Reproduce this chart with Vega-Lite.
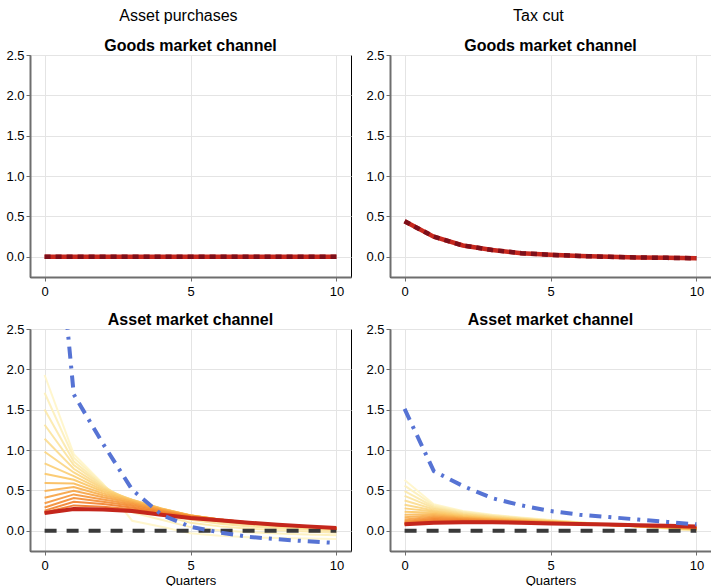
{
"$schema":"https://vega.github.io/schema/vega-lite/v6.json",
"padding":{"left":5,"top":7,"right":0,"bottom":0},
"config":{
"font":"Liberation Sans",
"view":{"stroke":"#000","strokeWidth":1},
"axis":{"grid":true,"gridColor":"#e4e4e4","gridWidth":1,"domainColor":"#6e6e6e","domainWidth":2,"tickColor":"#6e6e6e","tickSize":4,"tickWidth":1,"labelFontSize":13,"labelColor":"#000","labelPadding":2,"labelFlush":false,"titleFontSize":13,"titleFontWeight":"normal","titleColor":"#000","titlePadding":2},
"axisX":{"labelPadding":4},
"title":{"fontSize":16,"fontWeight":"bold","color":"#000","offset":-5}
},
"datasets":{
"zero":[{"x":0,"v":0},{"x":10,"v":0}],
"goodsAP":[{"x":0,"v":0},{"x":1,"v":0},{"x":2,"v":0},{"x":3,"v":0},{"x":4,"v":0},{"x":5,"v":0},{"x":6,"v":0},{"x":7,"v":0},{"x":8,"v":0},{"x":9,"v":0},{"x":10,"v":0}],
"goodsTC":[{"x":0,"v":0.44},{"x":1,"v":0.25},{"x":2,"v":0.14},{"x":3,"v":0.085},{"x":4,"v":0.045},{"x":5,"v":0.025},{"x":6,"v":0.01},{"x":7,"v":0.0},{"x":8,"v":-0.008},{"x":9,"v":-0.013},{"x":10,"v":-0.018}],
"redAP":[{"x":0,"v":0.22},{"x":1,"v":0.27},{"x":2,"v":0.265},{"x":3,"v":0.245},{"x":4,"v":0.2},{"x":5,"v":0.16},{"x":6,"v":0.13},{"x":7,"v":0.1},{"x":8,"v":0.075},{"x":9,"v":0.055},{"x":10,"v":0.035}],
"redTC":[{"x":0,"v":0.08},{"x":1,"v":0.1},{"x":2,"v":0.105},{"x":3,"v":0.105},{"x":4,"v":0.1},{"x":5,"v":0.092},{"x":6,"v":0.085},{"x":7,"v":0.077},{"x":8,"v":0.07},{"x":9,"v":0.062},{"x":10,"v":0.055}],
"blueAP":[{"x":0,"v":5.5},{"x":1,"v":1.69},{"x":2,"v":1.08},{"x":3,"v":0.51},{"x":4,"v":0.2},{"x":5,"v":0.05},{"x":6,"v":-0.02},{"x":7,"v":-0.075},{"x":8,"v":-0.105},{"x":9,"v":-0.13},{"x":10,"v":-0.15}],
"blueTC":[{"x":0,"v":1.51},{"x":1,"v":0.74},{"x":2,"v":0.555},{"x":3,"v":0.405},{"x":4,"v":0.315},{"x":5,"v":0.245},{"x":6,"v":0.2},{"x":7,"v":0.17},{"x":8,"v":0.14},{"x":9,"v":0.11},{"x":10,"v":0.08}],
"fanAP":[
{"k":15,"x":0,"v":1.93},{"k":15,"x":1,"v":0.95},{"k":15,"x":2,"v":0.585},{"k":15,"x":3,"v":0.125},{"k":15,"x":4,"v":0.05},{"k":15,"x":5,"v":-0.03},{"k":15,"x":6,"v":-0.06},{"k":15,"x":7,"v":-0.08},{"k":15,"x":8,"v":-0.09},{"k":15,"x":9,"v":-0.095},{"k":15,"x":10,"v":-0.1},
{"k":14,"x":0,"v":1.71},{"k":14,"x":1,"v":0.905},{"k":14,"x":2,"v":0.576},{"k":14,"x":3,"v":0.228},{"k":14,"x":4,"v":0.136},{"k":14,"x":5,"v":0.046},{"k":14,"x":6,"v":0.007},{"k":14,"x":7,"v":-0.018},{"k":14,"x":8,"v":-0.034},{"k":14,"x":9,"v":-0.045},{"k":14,"x":10,"v":-0.055},
{"k":13,"x":0,"v":1.504},{"k":13,"x":1,"v":0.859},{"k":13,"x":2,"v":0.565},{"k":13,"x":3,"v":0.298},{"k":13,"x":4,"v":0.195},{"k":13,"x":5,"v":0.1},{"k":13,"x":6,"v":0.055},{"k":13,"x":7,"v":0.026},{"k":13,"x":8,"v":0.006},{"k":13,"x":9,"v":-0.009},{"k":13,"x":10,"v":-0.024},
{"k":12,"x":0,"v":1.314},{"k":12,"x":1,"v":0.814},{"k":12,"x":2,"v":0.553},{"k":12,"x":3,"v":0.343},{"k":12,"x":4,"v":0.234},{"k":12,"x":5,"v":0.137},{"k":12,"x":6,"v":0.088},{"k":12,"x":7,"v":0.055},{"k":12,"x":8,"v":0.033},{"k":12,"x":9,"v":0.015},{"k":12,"x":10,"v":-0.003},
{"k":11,"x":0,"v":1.14},{"k":11,"x":1,"v":0.769},{"k":11,"x":2,"v":0.539},{"k":11,"x":3,"v":0.369},{"k":11,"x":4,"v":0.258},{"k":11,"x":5,"v":0.162},{"k":11,"x":6,"v":0.11},{"k":11,"x":7,"v":0.076},{"k":11,"x":8,"v":0.051},{"k":11,"x":9,"v":0.031},{"k":11,"x":10,"v":0.012},
{"k":10,"x":0,"v":0.98},{"k":10,"x":1,"v":0.723},{"k":10,"x":2,"v":0.523},{"k":10,"x":3,"v":0.382},{"k":10,"x":4,"v":0.271},{"k":10,"x":5,"v":0.177},{"k":10,"x":6,"v":0.124},{"k":10,"x":7,"v":0.089},{"k":10,"x":8,"v":0.063},{"k":10,"x":9,"v":0.042},{"k":10,"x":10,"v":0.021},
{"k":9,"x":0,"v":0.836},{"k":9,"x":1,"v":0.678},{"k":9,"x":2,"v":0.505},{"k":9,"x":3,"v":0.385},{"k":9,"x":4,"v":0.277},{"k":9,"x":5,"v":0.186},{"k":9,"x":6,"v":0.133},{"k":9,"x":7,"v":0.096},{"k":9,"x":8,"v":0.07},{"k":9,"x":9,"v":0.048},{"k":9,"x":10,"v":0.026},
{"k":8,"x":0,"v":0.706},{"k":8,"x":1,"v":0.633},{"k":8,"x":2,"v":0.485},{"k":8,"x":3,"v":0.381},{"k":8,"x":4,"v":0.277},{"k":8,"x":5,"v":0.191},{"k":8,"x":6,"v":0.138},{"k":8,"x":7,"v":0.101},{"k":8,"x":8,"v":0.074},{"k":8,"x":9,"v":0.052},{"k":8,"x":10,"v":0.03},
{"k":7,"x":0,"v":0.592},{"k":7,"x":1,"v":0.587},{"k":7,"x":2,"v":0.464},{"k":7,"x":3,"v":0.373},{"k":7,"x":4,"v":0.274},{"k":7,"x":5,"v":0.192},{"k":7,"x":6,"v":0.141},{"k":7,"x":7,"v":0.103},{"k":7,"x":8,"v":0.076},{"k":7,"x":9,"v":0.053},{"k":7,"x":10,"v":0.031},
{"k":6,"x":0,"v":0.494},{"k":6,"x":1,"v":0.542},{"k":6,"x":2,"v":0.441},{"k":6,"x":3,"v":0.36},{"k":6,"x":4,"v":0.268},{"k":6,"x":5,"v":0.191},{"k":6,"x":6,"v":0.141},{"k":6,"x":7,"v":0.104},{"k":6,"x":8,"v":0.077},{"k":6,"x":9,"v":0.054},{"k":6,"x":10,"v":0.032},
{"k":5,"x":0,"v":0.41},{"k":5,"x":1,"v":0.497},{"k":5,"x":2,"v":0.416},{"k":5,"x":3,"v":0.346},{"k":5,"x":4,"v":0.26},{"k":5,"x":5,"v":0.189},{"k":5,"x":6,"v":0.14},{"k":5,"x":7,"v":0.104},{"k":5,"x":8,"v":0.076},{"k":5,"x":9,"v":0.054},{"k":5,"x":10,"v":0.033},
{"k":4,"x":0,"v":0.342},{"k":4,"x":1,"v":0.451},{"k":4,"x":2,"v":0.389},{"k":4,"x":3,"v":0.329},{"k":4,"x":4,"v":0.25},{"k":4,"x":5,"v":0.185},{"k":4,"x":6,"v":0.139},{"k":4,"x":7,"v":0.103},{"k":4,"x":8,"v":0.076},{"k":4,"x":9,"v":0.054},{"k":4,"x":10,"v":0.032},
{"k":3,"x":0,"v":0.288},{"k":3,"x":1,"v":0.406},{"k":3,"x":2,"v":0.361},{"k":3,"x":3,"v":0.31},{"k":3,"x":4,"v":0.239},{"k":3,"x":5,"v":0.18},{"k":3,"x":6,"v":0.136},{"k":3,"x":7,"v":0.101},{"k":3,"x":8,"v":0.075},{"k":3,"x":9,"v":0.053},{"k":3,"x":10,"v":0.032},
{"k":2,"x":0,"v":0.25},{"k":2,"x":1,"v":0.361},{"k":2,"x":2,"v":0.331},{"k":2,"x":3,"v":0.29},{"k":2,"x":4,"v":0.227},{"k":2,"x":5,"v":0.174},{"k":2,"x":6,"v":0.133},{"k":2,"x":7,"v":0.1},{"k":2,"x":8,"v":0.074},{"k":2,"x":9,"v":0.052},{"k":2,"x":10,"v":0.031},
{"k":1,"x":0,"v":0.228},{"k":1,"x":1,"v":0.315},{"k":1,"x":2,"v":0.299},{"k":1,"x":3,"v":0.268},{"k":1,"x":4,"v":0.214},{"k":1,"x":5,"v":0.168},{"k":1,"x":6,"v":0.129},{"k":1,"x":7,"v":0.098},{"k":1,"x":8,"v":0.072},{"k":1,"x":9,"v":0.051},{"k":1,"x":10,"v":0.031},
{"k":0,"x":0,"v":0.22},{"k":0,"x":1,"v":0.27},{"k":0,"x":2,"v":0.265},{"k":0,"x":3,"v":0.245},{"k":0,"x":4,"v":0.2},{"k":0,"x":5,"v":0.16},{"k":0,"x":6,"v":0.125},{"k":0,"x":7,"v":0.095},{"k":0,"x":8,"v":0.07},{"k":0,"x":9,"v":0.05},{"k":0,"x":10,"v":0.03}
],
"fanTC":[
{"k":15,"x":0,"v":0.63},{"k":15,"x":1,"v":0.33},{"k":15,"x":2,"v":0.245},{"k":15,"x":3,"v":0.2},{"k":15,"x":4,"v":0.165},{"k":15,"x":5,"v":0.135},{"k":15,"x":6,"v":0.105},{"k":15,"x":7,"v":0.08},{"k":15,"x":8,"v":0.052},{"k":15,"x":9,"v":0.03},{"k":15,"x":10,"v":0.0},
{"k":14,"x":0,"v":0.559},{"k":14,"x":1,"v":0.315},{"k":14,"x":2,"v":0.236},{"k":14,"x":3,"v":0.193},{"k":14,"x":4,"v":0.16},{"k":14,"x":5,"v":0.132},{"k":14,"x":6,"v":0.103},{"k":14,"x":7,"v":0.079},{"k":14,"x":8,"v":0.053},{"k":14,"x":9,"v":0.032},{"k":14,"x":10,"v":0.003},
{"k":13,"x":0,"v":0.493},{"k":13,"x":1,"v":0.299},{"k":13,"x":2,"v":0.226},{"k":13,"x":3,"v":0.187},{"k":13,"x":4,"v":0.156},{"k":13,"x":5,"v":0.129},{"k":13,"x":6,"v":0.102},{"k":13,"x":7,"v":0.079},{"k":13,"x":8,"v":0.053},{"k":13,"x":9,"v":0.033},{"k":13,"x":10,"v":0.006},
{"k":12,"x":0,"v":0.432},{"k":12,"x":1,"v":0.284},{"k":12,"x":2,"v":0.217},{"k":12,"x":3,"v":0.18},{"k":12,"x":4,"v":0.151},{"k":12,"x":5,"v":0.126},{"k":12,"x":6,"v":0.1},{"k":12,"x":7,"v":0.078},{"k":12,"x":8,"v":0.054},{"k":12,"x":9,"v":0.035},{"k":12,"x":10,"v":0.009},
{"k":11,"x":0,"v":0.376},{"k":11,"x":1,"v":0.269},{"k":11,"x":2,"v":0.208},{"k":11,"x":3,"v":0.173},{"k":11,"x":4,"v":0.146},{"k":11,"x":5,"v":0.123},{"k":11,"x":6,"v":0.098},{"k":11,"x":7,"v":0.077},{"k":11,"x":8,"v":0.055},{"k":11,"x":9,"v":0.037},{"k":11,"x":10,"v":0.012},
{"k":10,"x":0,"v":0.324},{"k":10,"x":1,"v":0.253},{"k":10,"x":2,"v":0.198},{"k":10,"x":3,"v":0.167},{"k":10,"x":4,"v":0.142},{"k":10,"x":5,"v":0.12},{"k":10,"x":6,"v":0.097},{"k":10,"x":7,"v":0.077},{"k":10,"x":8,"v":0.055},{"k":10,"x":9,"v":0.038},{"k":10,"x":10,"v":0.015},
{"k":9,"x":0,"v":0.278},{"k":9,"x":1,"v":0.238},{"k":9,"x":2,"v":0.189},{"k":9,"x":3,"v":0.16},{"k":9,"x":4,"v":0.137},{"k":9,"x":5,"v":0.117},{"k":9,"x":6,"v":0.095},{"k":9,"x":7,"v":0.076},{"k":9,"x":8,"v":0.056},{"k":9,"x":9,"v":0.04},{"k":9,"x":10,"v":0.018},
{"k":8,"x":0,"v":0.236},{"k":8,"x":1,"v":0.223},{"k":8,"x":2,"v":0.18},{"k":8,"x":3,"v":0.153},{"k":8,"x":4,"v":0.132},{"k":8,"x":5,"v":0.114},{"k":8,"x":6,"v":0.093},{"k":8,"x":7,"v":0.075},{"k":8,"x":8,"v":0.057},{"k":8,"x":9,"v":0.042},{"k":8,"x":10,"v":0.021},
{"k":7,"x":0,"v":0.2},{"k":7,"x":1,"v":0.207},{"k":7,"x":2,"v":0.17},{"k":7,"x":3,"v":0.147},{"k":7,"x":4,"v":0.128},{"k":7,"x":5,"v":0.111},{"k":7,"x":6,"v":0.092},{"k":7,"x":7,"v":0.075},{"k":7,"x":8,"v":0.057},{"k":7,"x":9,"v":0.043},{"k":7,"x":10,"v":0.024},
{"k":6,"x":0,"v":0.168},{"k":6,"x":1,"v":0.192},{"k":6,"x":2,"v":0.161},{"k":6,"x":3,"v":0.14},{"k":6,"x":4,"v":0.123},{"k":6,"x":5,"v":0.108},{"k":6,"x":6,"v":0.09},{"k":6,"x":7,"v":0.074},{"k":6,"x":8,"v":0.058},{"k":6,"x":9,"v":0.045},{"k":6,"x":10,"v":0.027},
{"k":5,"x":0,"v":0.141},{"k":5,"x":1,"v":0.177},{"k":5,"x":2,"v":0.152},{"k":5,"x":3,"v":0.133},{"k":5,"x":4,"v":0.118},{"k":5,"x":5,"v":0.105},{"k":5,"x":6,"v":0.088},{"k":5,"x":7,"v":0.073},{"k":5,"x":8,"v":0.059},{"k":5,"x":9,"v":0.047},{"k":5,"x":10,"v":0.03},
{"k":4,"x":0,"v":0.119},{"k":4,"x":1,"v":0.161},{"k":4,"x":2,"v":0.142},{"k":4,"x":3,"v":0.127},{"k":4,"x":4,"v":0.114},{"k":4,"x":5,"v":0.102},{"k":4,"x":6,"v":0.087},{"k":4,"x":7,"v":0.073},{"k":4,"x":8,"v":0.059},{"k":4,"x":9,"v":0.048},{"k":4,"x":10,"v":0.033},
{"k":3,"x":0,"v":0.102},{"k":3,"x":1,"v":0.146},{"k":3,"x":2,"v":0.133},{"k":3,"x":3,"v":0.12},{"k":3,"x":4,"v":0.109},{"k":3,"x":5,"v":0.099},{"k":3,"x":6,"v":0.085},{"k":3,"x":7,"v":0.072},{"k":3,"x":8,"v":0.06},{"k":3,"x":9,"v":0.05},{"k":3,"x":10,"v":0.036},
{"k":2,"x":0,"v":0.09},{"k":2,"x":1,"v":0.131},{"k":2,"x":2,"v":0.124},{"k":2,"x":3,"v":0.113},{"k":2,"x":4,"v":0.104},{"k":2,"x":5,"v":0.096},{"k":2,"x":6,"v":0.083},{"k":2,"x":7,"v":0.071},{"k":2,"x":8,"v":0.061},{"k":2,"x":9,"v":0.052},{"k":2,"x":10,"v":0.039},
{"k":1,"x":0,"v":0.082},{"k":1,"x":1,"v":0.115},{"k":1,"x":2,"v":0.114},{"k":1,"x":3,"v":0.107},{"k":1,"x":4,"v":0.1},{"k":1,"x":5,"v":0.093},{"k":1,"x":6,"v":0.082},{"k":1,"x":7,"v":0.071},{"k":1,"x":8,"v":0.061},{"k":1,"x":9,"v":0.053},{"k":1,"x":10,"v":0.042},
{"k":0,"x":0,"v":0.08},{"k":0,"x":1,"v":0.1},{"k":0,"x":2,"v":0.105},{"k":0,"x":3,"v":0.1},{"k":0,"x":4,"v":0.095},{"k":0,"x":5,"v":0.09},{"k":0,"x":6,"v":0.08},{"k":0,"x":7,"v":0.07},{"k":0,"x":8,"v":0.062},{"k":0,"x":9,"v":0.055},{"k":0,"x":10,"v":0.045}
]
},
"spacing":13,
"hconcat":[
{"title":{"text":"Asset purchases","fontWeight":"normal","anchor":"middle","offset":14},
 "spacing":12,
 "vconcat":[
  {"width":321,"height":222,"title":"Goods market channel",
   "encoding":{"x":{"field":"x","type":"quantitative","scale":{"domain":[-0.5,10.5],"nice":false,"zero":false},"axis":{"values":[0,5,10],"title":null}},
               "y":{"field":"v","type":"quantitative","scale":{"domain":[-0.25,2.5],"nice":false,"zero":false},"axis":{"values":[0,0.5,1,1.5,2,2.5],"format":".1f","title":null}}},
   "layer":[
    {"data":{"name":"goodsAP"},"mark":{"type":"line","color":"#c8281e","strokeWidth":4.5,"clip":true}},
    {"data":{"name":"goodsAP"},"mark":{"type":"line","color":"#7d0f1a","strokeWidth":4.5,"strokeDash":[6,5],"clip":true}}
   ]},
  {"width":321,"height":222,"title":"Asset market channel",
   "encoding":{"x":{"field":"x","type":"quantitative","scale":{"domain":[-0.5,10.5],"nice":false,"zero":false},"axis":{"values":[0,5,10],"title":"Quarters"}},
               "y":{"field":"v","type":"quantitative","scale":{"domain":[-0.25,2.5],"nice":false,"zero":false},"axis":{"values":[0,0.5,1,1.5,2,2.5],"format":".1f","title":null}}},
   "layer":[
    {"data":{"name":"fanAP"},"mark":{"type":"line","strokeWidth":2,"opacity":0.9,"clip":true},
     "encoding":{"detail":{"field":"k","type":"nominal"},"color":{"field":"k","type":"quantitative","scale":{"domain":[0,4,8,15],"range":["#ee6a1f","#f5953a","#fbc766","#fff5c8"]},"legend":null}}},
    {"data":{"name":"zero"},"mark":{"type":"line","color":"#3a3a3a","strokeWidth":4,"strokeDash":[12,10],"clip":true}},
    {"data":{"name":"redAP"},"mark":{"type":"line","color":"#c4261c","strokeWidth":4,"clip":true}},
    {"data":{"name":"blueAP"},"mark":{"type":"line","color":"#5673d4","strokeWidth":4,"strokeDash":[12,7,3,7],"clip":true}}
   ]}
 ]},
{"title":{"text":"Tax cut","fontWeight":"normal","anchor":"middle","offset":14},
 "spacing":12,
 "vconcat":[
  {"width":321,"height":222,"title":"Goods market channel",
   "encoding":{"x":{"field":"x","type":"quantitative","scale":{"domain":[-0.5,10.5],"nice":false,"zero":false},"axis":{"values":[0,5,10],"title":null}},
               "y":{"field":"v","type":"quantitative","scale":{"domain":[-0.25,2.5],"nice":false,"zero":false},"axis":{"values":[0,0.5,1,1.5,2,2.5],"format":".1f","title":null}}},
   "layer":[
    {"data":{"name":"goodsTC"},"mark":{"type":"line","color":"#c8281e","strokeWidth":4.5,"clip":true}},
    {"data":{"name":"goodsTC"},"mark":{"type":"line","color":"#7d0f1a","strokeWidth":4.5,"strokeDash":[6,5],"clip":true}}
   ]},
  {"width":321,"height":222,"title":"Asset market channel",
   "encoding":{"x":{"field":"x","type":"quantitative","scale":{"domain":[-0.5,10.5],"nice":false,"zero":false},"axis":{"values":[0,5,10],"title":"Quarters"}},
               "y":{"field":"v","type":"quantitative","scale":{"domain":[-0.25,2.5],"nice":false,"zero":false},"axis":{"values":[0,0.5,1,1.5,2,2.5],"format":".1f","title":null}}},
   "layer":[
    {"data":{"name":"fanTC"},"mark":{"type":"line","strokeWidth":2,"opacity":0.9,"clip":true},
     "encoding":{"detail":{"field":"k","type":"nominal"},"color":{"field":"k","type":"quantitative","scale":{"domain":[0,4,8,15],"range":["#ee6a1f","#f5953a","#fbc766","#fff5c8"]},"legend":null}}},
    {"data":{"name":"zero"},"mark":{"type":"line","color":"#3a3a3a","strokeWidth":4,"strokeDash":[12,10],"clip":true}},
    {"data":{"name":"redTC"},"mark":{"type":"line","color":"#c4261c","strokeWidth":4,"clip":true}},
    {"data":{"name":"blueTC"},"mark":{"type":"line","color":"#5673d4","strokeWidth":4,"strokeDash":[12,7,3,7],"clip":true}}
   ]}
 ]}
]
}
